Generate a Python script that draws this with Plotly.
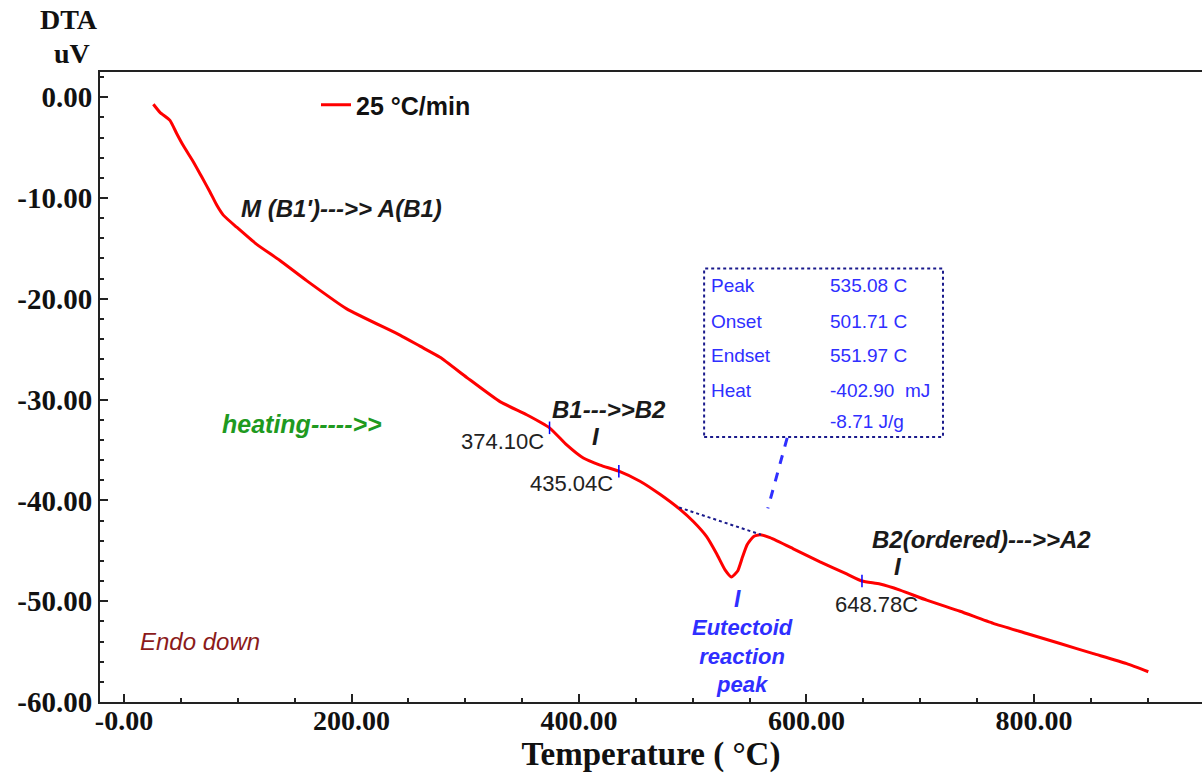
import numpy as np
import plotly.graph_objects as go

# ---------------- data ----------------
temp_c = [25.8, 31.6, 40.4, 46.3, 52.1, 60.9, 68.3, 75.6, 81.5, 87.3, 99.1, 116.7,
          137.1, 160.6, 195.8, 242.6, 260.2, 277.8, 301.3, 330.5, 354.0, 374.1,
          389.2, 403.8, 418.5, 435.0, 453.6, 471.2, 488.8, 500.5, 512.2, 521.0,
          528.4, 534.0, 539.5, 543.5, 547.8, 553.3, 559.1, 567.9, 588.4, 611.9,
          635.3, 648.8, 664.6, 682.2, 705.7, 735.0, 764.2, 793.6, 822.9, 852.2,
          881.5, 900.5]
dta_uv = [-0.7, -1.5, -2.3, -3.6, -4.8, -6.4, -7.9, -9.4, -10.7, -11.7, -12.9, -14.6,
          -16.2, -18.2, -21.0, -23.6, -24.7, -25.8, -27.8, -30.2, -31.5, -32.8,
          -34.5, -35.8, -36.5, -37.1, -38.1, -39.4, -40.9, -42.1, -43.6, -45.3,
          -46.9, -47.6, -47.0, -45.7, -44.4, -43.6, -43.4, -43.7, -44.8, -46.1,
          -47.3, -48.0, -48.3, -48.9, -49.9, -51.0, -52.2, -53.2, -54.2, -55.2,
          -56.2, -57.0]

mark_temps = [374.10, 435.04, 648.78]
mark_labels = ["374.10C", "435.04C", "648.78C"]

baseline_x = [488.0, 560.0]
baseline_y = [-40.7, -43.4]

x_tickvals = [0, 200, 400, 600, 800]
x_ticktext = ["-0.00", "200.00", "400.00", "600.00", "800.00"]
y_tickvals = [0, -10, -20, -30, -40, -50, -60]
y_ticktext = ["0.00", "-10.00", "-20.00", "-30.00", "-40.00", "-50.00", "-60.00"]

box_labels = ["Peak", "Onset", "Endset", "Heat", ""]
box_values = ["535.08 C", "501.71 C", "551.97 C", "-402.90  mJ", "-8.71 J/g"]

# ---------------- figure ----------------
SANS = "Liberation Sans, Arial, sans-serif"
SERIF = "Liberation Serif, Times New Roman, serif"
BLUE = "#2f2fff"
NAVY = "#1a1a8c"

fig = go.Figure()

fig.add_trace(go.Scatter(
    x=temp_c, y=dta_uv, mode="lines", name="25 °C/min",
    line=dict(color="#ff0000", width=3, shape="spline", smoothing=0.5), showlegend=True))

# dotted baseline under the eutectoid peak
fig.add_trace(go.Scatter(
    x=baseline_x, y=baseline_y, mode="lines", showlegend=False,
    line=dict(color=NAVY, width=2, dash="dot")))

# small blue markers on the curve
mark_y = np.interp(mark_temps, temp_c, dta_uv)
fig.add_trace(go.Scatter(
    x=mark_temps, y=mark_y, mode="markers", showlegend=False,
    marker=dict(symbol="line-ns", size=9, line=dict(color="#0000ff", width=1.5))))

# mark labels
label_offsets = [(-3, -1.4, "right"), (-3, -1.2, "right"), (13, -2.3, "center")]
for t, y, lab, (dx, dy, anc) in zip(mark_temps, mark_y, mark_labels, label_offsets):
    fig.add_annotation(x=t + dx, y=y + dy, text=lab, showarrow=False,
                       xanchor=anc, font=dict(family=SANS, size=22, color="#222222"))

# info box
fig.add_shape(type="rect", x0=510, x1=720, y0=-33.7, y1=-17.0,
              line=dict(color=NAVY, width=2, dash="dot"))
row_y = [-18.7, -22.3, -25.6, -29.1, -32.2]
for lab, val, yy in zip(box_labels, box_values, row_y):
    if lab:
        fig.add_annotation(x=514, y=yy, text=lab, showarrow=False, xanchor="left",
                           font=dict(family=SANS, size=19, color=BLUE))
    fig.add_annotation(x=619, y=yy, text=val, showarrow=False, xanchor="left",
                       font=dict(family=SANS, size=19, color=BLUE))

# dashed pointer from box to peak
fig.add_shape(type="line", x0=583, y0=-33.8, x1=566, y1=-40.8,
              line=dict(color=BLUE, width=3, dash="dash"))

# text annotations
bi = dict(family=SANS, size=24, color="#1a1a1a", weight="bold", style="italic")
fig.add_annotation(x=191.6, y=-11.0, text="M (B1')--->> A(B1)", showarrow=False, font=bi)
fig.add_annotation(x=426, y=-31.0, text="B1--->>B2", showarrow=False, font=bi)
fig.add_annotation(x=415, y=-33.7, text="I", showarrow=False, font=bi)
fig.add_annotation(x=754, y=-43.9, text="B2(ordered)--->>A2", showarrow=False, font=bi)
fig.add_annotation(x=680.4, y=-46.6, text="I", showarrow=False, font=bi)
fig.add_annotation(x=539, y=-49.8, text="I", showarrow=False,
                   font=dict(family=SANS, size=23, color=BLUE, weight="bold", style="italic"))
fig.add_annotation(x=543.3, y=-55.4, text="Eutectoid<br>reaction<br>peak", showarrow=False,
                   font=dict(family=SANS, size=22, color=BLUE, weight="bold", style="italic"))
fig.add_annotation(x=156.5, y=-32.4, text="heating----->>", showarrow=False,
                   font=dict(family=SANS, size=25, color="#1f9a1f", weight="bold", style="italic"))
fig.add_annotation(x=66.8, y=-54.0, text="Endo down", showarrow=False,
                   font=dict(family=SANS, size=24, color="#8b1a1a", style="italic"))

# y axis title (stacked above the axis)
fig.add_annotation(xref="paper", yref="paper", x=-31 / 1102, y=(702 - 19) / 630,
                   text="DTA", showarrow=False, xanchor="center", yanchor="middle",
                   font=dict(family=SERIF, size=28, color="#111111", weight="bold"))
fig.add_annotation(xref="paper", yref="paper", x=-28 / 1102, y=(702 - 53) / 630,
                   text="uV", showarrow=False, xanchor="center", yanchor="middle",
                   font=dict(family=SERIF, size=28, color="#111111", weight="bold"))

fig.update_layout(
    width=1202, height=774,
    margin=dict(l=100, r=0, t=72, b=72),
    paper_bgcolor="white", plot_bgcolor="white",
    showlegend=True,
    legend=dict(x=(316 - 100) / 1102, y=(702 - 105) / 630, xanchor="left", yanchor="middle",
                bgcolor="rgba(0,0,0,0)", borderwidth=0,
                font=dict(family=SANS, size=25, color="#111111", weight="bold")),
    xaxis=dict(range=[-21.1, 947.7], showgrid=False, zeroline=False,
               showline=True, linecolor="#222222", linewidth=2, mirror=True,
               ticks="inside", ticklen=8, tickwidth=1.5, tickcolor="#222222",
               tickvals=x_tickvals, ticktext=x_ticktext, ticklabelstandoff=-8,
               tickfont=dict(family=SERIF, size=28, color="#111111", weight="bold"),
               minor=dict(dtick=50, ticks="inside", ticklen=4, tickcolor="#222222"),
               title=dict(text="Temperature ( °C)", standoff=4,
                          font=dict(family=SERIF, size=33, color="#111111", weight="bold"))),
    yaxis=dict(range=[-60, 2.5], showgrid=False, zeroline=False,
               showline=True, linecolor="#222222", linewidth=2, mirror=False,
               ticks="inside", ticklen=8, tickwidth=1.5, tickcolor="#222222",
               tickvals=y_tickvals, ticktext=y_ticktext,
               tickfont=dict(family=SERIF, size=29, color="#111111", weight="bold"),
               minor=dict(dtick=2, ticks="inside", ticklen=4, tickcolor="#222222")),
)

fig.write_html("out.html")
